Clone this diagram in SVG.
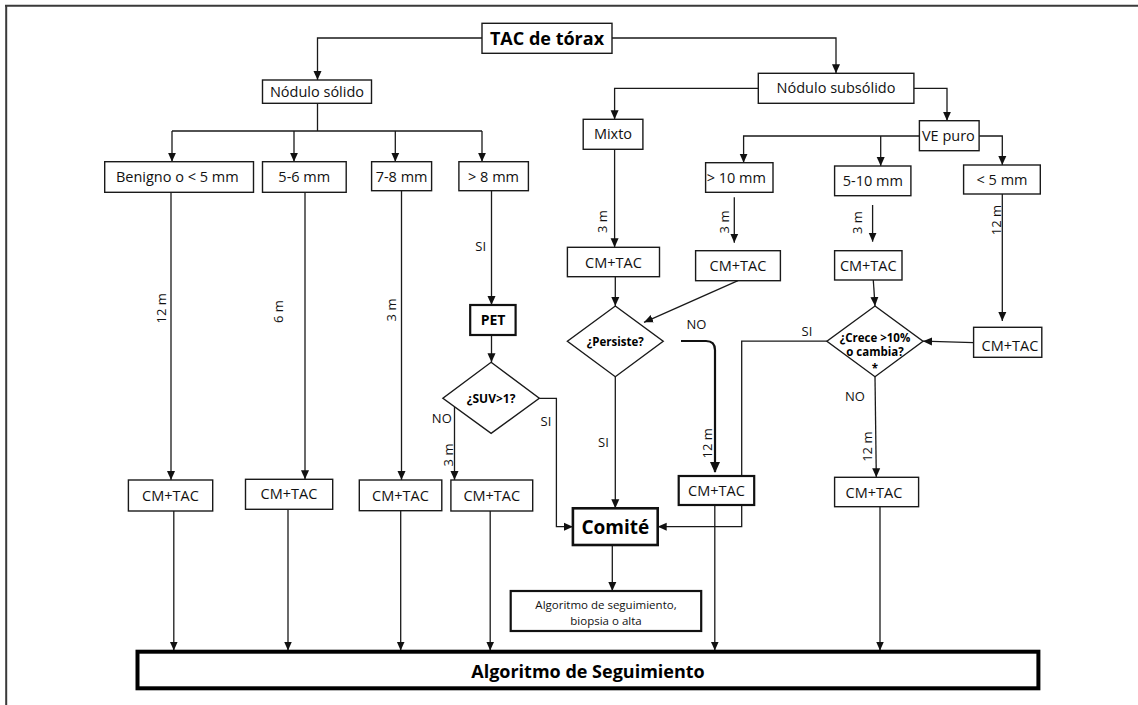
<svg xmlns="http://www.w3.org/2000/svg" width="1138" height="705" viewBox="0 0 1138 705">
<style>
.bx{fill:#fff;stroke:#1a1a1a;stroke-width:1.4}
.bb{fill:#fff;stroke:#111;stroke-width:2.2}
.t{font-family:"Open Sans","Liberation Sans",sans-serif;font-size:14.5px;fill:#111;text-anchor:middle}
.tb{font-family:"Open Sans","Liberation Sans",sans-serif;font-weight:bold;fill:#000;text-anchor:middle}
.lb{font-family:"Open Sans","Liberation Sans",sans-serif;font-size:13px;fill:#111;text-anchor:middle}
.c{fill:none;stroke:#1a1a1a;stroke-width:1.3}
.ca{fill:none;stroke:#1a1a1a;stroke-width:1.3;marker-end:url(#ah)}
.ct{fill:none;stroke:#111;stroke-width:2.2;marker-end:url(#ahb)}
</style>
<defs>
<marker id="ah" markerUnits="userSpaceOnUse" markerWidth="9" markerHeight="9" refX="9" refY="4.5" orient="auto"><path d="M0,0.5 L9,4.5 L0,8.5 z" fill="#111"/></marker>
<marker id="ahb" markerUnits="userSpaceOnUse" markerWidth="11" markerHeight="11" refX="10" refY="5.5" orient="auto"><path d="M0,0.5 L11,5.5 L0,10.5 z" fill="#111"/></marker>
</defs>
<rect width="1138" height="705" fill="#fff"/>
<path d="M5,5.8 H1138 M6.2,5 V705" stroke="#3a3a3a" stroke-width="2" fill="none"/>

<g id="connectors">
<path class="ca" d="M482,38 H317.5 V80"/>
<path class="ca" d="M612,38 H836 V73.3"/>
<path class="c" d="M317.5,103.3 V131 M172,131 H482"/>
<path class="ca" d="M172,131 V161.7"/>
<path class="ca" d="M294,131 V161.7"/>
<path class="ca" d="M395.3,131 V161.7"/>
<path class="ca" d="M482,131 V161.7"/>
<path class="ca" d="M171,192.3 V480"/>
<path class="ca" d="M305,192.3 V479.3"/>
<path class="ca" d="M401.5,190.7 V480"/>
<path class="ca" d="M491.5,190.7 V305"/>
<path class="ca" d="M491.5,335 V362.3"/>
<path class="ca" d="M539.3,398.3 H556.4 V526.7 H572.9"/>
<path class="ca" d="M454.5,407 V480"/>
<path class="ca" d="M173.8,511 V650.5"/>
<path class="ca" d="M288,509.3 V650.5"/>
<path class="ca" d="M400.7,510.7 V650.5"/>
<path class="ca" d="M490.2,511 V650.5"/>
<path class="ca" d="M758.3,88.3 H614.6 V119.3"/>
<path class="ca" d="M913.9,88.3 H947 V120.7"/>
<path class="ca" d="M919.4,136 H743.6 V162.7"/>
<path class="ca" d="M880.7,136 V166"/>
<path class="ca" d="M979.1,136 H1002.3 V165"/>
<path class="ca" d="M614.6,149.3 V247.3"/>
<path class="ca" d="M734.3,197.3 V242.7"/>
<path class="ca" d="M872.6,205 V241.7"/>
<path class="ca" d="M1002.3,194 V321"/>
<path class="ca" d="M615.3,276.7 V306"/>
<path class="ca" d="M738,280.7 L644,322.3"/>
<path class="ct" d="M681,341 H706 Q715,341 715,350 V472"/>
<path class="ca" d="M615.3,376.7 V508.3"/>
<path class="ca" d="M873.3,280 L875,306"/>
<path class="ca" d="M973.6,342.7 L923,341.2"/>
<path class="ca" d="M826.9,341.2 H741.7 V526.7 H657.7"/>
<path class="ca" d="M875,376.7 L876.3,477.3"/>
<path class="ca" d="M714.8,505 V650.5"/>
<path class="ca" d="M880,506.7 V650.5"/>
<path class="ca" d="M612.3,545 V591"/>
<text class="lb" x="480.7" y="251.2">SI</text>
<text class="lb" x="441.8" y="422.8">NO</text>
<text class="lb" x="546" y="426.2">SI</text>
<text class="lb" transform="translate(448,455) rotate(-90)" dy="0.35em">3 m</text>
<text class="lb" transform="translate(161.8,308.3) rotate(-90)" dy="0.35em">12 m</text>
<text class="lb" transform="translate(278,311.7) rotate(-90)" dy="0.35em">6 m</text>
<text class="lb" transform="translate(391.6,310) rotate(-90)" dy="0.35em">3 m</text>
<text class="lb" transform="translate(602.4,221.7) rotate(-90)" dy="0.35em">3 m</text>
<text class="lb" transform="translate(724,222) rotate(-90)" dy="0.35em">3 m</text>
<text class="lb" transform="translate(857.8,222.7) rotate(-90)" dy="0.35em">3 m</text>
<text class="lb" transform="translate(996.8,220) rotate(-90)" dy="0.35em">12 m</text>
<text class="lb" x="696.4" y="328.5">NO</text>
<text class="lb" transform="translate(707.4,443.3) rotate(-90)" dy="0.35em">12 m</text>
<text class="lb" x="603.5" y="446.8">SI</text>
<text class="lb" x="807" y="336.2">SI</text>
<text class="lb" x="854.9" y="401.2">NO</text>
<text class="lb" transform="translate(867,446.7) rotate(-90)" dy="0.35em">12 m</text>
</g>

<g id="tac"><rect class="bx" x="482" y="23.3" width="130" height="30"/><text class="tb" style="font-size:18px" x="547" y="44.5">TAC de tórax</text></g>
<g id="solido"><rect class="bx" x="262.5" y="80" width="109" height="23.3"/><text class="t" x="317" y="96.5">Nódulo sólido</text></g>
<g id="benigno"><rect class="bx" x="104.7" y="161.7" width="148.8" height="30.6"/><text class="t" x="177.3" y="182">Benigno o &lt; 5 mm</text></g>
<g id="s56"><rect class="bx" x="262.5" y="161.7" width="83.7" height="30.6"/><text class="t" x="304.3" y="182">5-6 mm</text></g>
<g id="s78"><rect class="bx" x="371.6" y="161.7" width="60" height="29"/><text class="t" x="401.6" y="182">7-8 mm</text></g>
<g id="s8"><rect class="bx" x="458.9" y="161.7" width="69.5" height="29"/><text class="t" x="493.5" y="182">&gt; 8 mm</text></g>
<g id="pet"><rect class="bb" x="470.2" y="305" width="45.4" height="30"/><text class="tb" style="font-size:14px" x="493" y="325">PET</text></g>
<g id="suv"><polygon class="bx" points="491.1,362.3 539.3,398.3 491.1,433.3 442.9,398.3"/><text class="tb" style="font-size:12px" x="491.1" y="402.5">¿SUV&gt;1?</text></g>
<g id="cm1"><rect class="bx" x="128.4" y="480" width="84.3" height="31"/><text class="t" x="170.5" y="500.5">CM+TAC</text></g>
<g id="cm2"><rect class="bx" x="245.5" y="479.3" width="87.2" height="30"/><text class="t" x="289" y="499">CM+TAC</text></g>
<g id="cm3"><rect class="bx" x="359.3" y="480" width="82.5" height="30.7"/><text class="t" x="400.5" y="500.5">CM+TAC</text></g>
<g id="cm4"><rect class="bx" x="450.9" y="480" width="81.8" height="31"/><text class="t" x="491.8" y="500.5">CM+TAC</text></g>
<g id="subsolido"><rect class="bx" x="758.3" y="73.3" width="155.6" height="30"/><text class="t" x="836" y="93.3">Nódulo subsólido</text></g>
<g id="mixto"><rect class="bx" x="583.2" y="119.3" width="59.7" height="30"/><text class="t" x="613" y="139.3">Mixto</text></g>
<g id="vepuro"><rect class="bx" x="919.4" y="120.7" width="59.7" height="30"/><text class="t" x="948.4" y="141.2">VE puro</text></g>
<g id="g10"><rect class="bx" x="705.6" y="162.7" width="67.4" height="29.6"/><text class="t" x="736.3" y="182.5">&gt; 10 mm</text></g>
<g id="s510"><rect class="bx" x="834.6" y="166" width="76.3" height="29.7"/><text class="t" x="872.8" y="186">5-10 mm</text></g>
<g id="l5"><rect class="bx" x="963.6" y="165" width="76.7" height="29"/><text class="t" x="1002" y="184.5">&lt; 5 mm</text></g>
<g id="cmmixto"><rect class="bx" x="567.4" y="247.3" width="92.1" height="29.4"/><text class="t" x="613.5" y="267.5">CM+TAC</text></g>
<g id="cm10"><rect class="bx" x="695.6" y="250.7" width="84.8" height="30"/><text class="t" x="738" y="270.7">CM+TAC</text></g>
<g id="cm510"><rect class="bx" x="834.6" y="250.7" width="67.4" height="29.3"/><text class="t" x="868.3" y="270.5">CM+TAC</text></g>
<g id="cml5"><rect class="bx" x="973.6" y="327.3" width="68.2" height="30"/><text class="t" x="1010" y="351">CM+TAC</text></g>
<g id="persiste"><polygon class="bx" points="615.3,306 663.2,341.3 615.3,376.7 567.4,341.3"/><text class="tb" style="font-size:11.5px" x="615.3" y="345.5">¿Persiste?</text></g>
<g id="crece"><polygon class="bx" points="875,306 923,341.3 875,376.7 826.9,341.3"/><text class="tb" style="font-size:11.5px" x="875" y="341.5">¿Crece &gt;10%</text><text class="tb" style="font-size:11.5px" x="875" y="356">o cambia?</text><text class="tb" style="font-size:11.5px" x="875" y="373">*</text></g>
<g id="cmno"><rect class="bb" x="678.7" y="476" width="75.5" height="29"/><text class="t" x="716.5" y="496">CM+TAC</text></g>
<g id="cmright"><rect class="bx" x="834.6" y="477.3" width="84" height="29.4"/><text class="t" x="874" y="497.5">CM+TAC</text></g>
<g id="comite"><rect class="bb" x="572.9" y="508.3" width="84.8" height="36.7" style="stroke-width:2.6"/><text class="tb" style="font-size:19px" x="615.3" y="533.5">Comité</text></g>
<g id="algbiopsia"><rect class="bb" x="510.7" y="591" width="190.5" height="40"/><text class="t" style="font-size:11.5px" x="606" y="609">Algoritmo de seguimiento,</text><text class="t" style="font-size:11.5px" x="606" y="625">biopsia o alta</text></g>
<g id="algoritmo"><rect x="137.5" y="651.7" width="900.9" height="36.6" fill="#fff" stroke="#000" stroke-width="4"/><text class="tb" style="font-size:18px" x="588" y="677.5">Algoritmo de Seguimiento</text></g>
</svg>
